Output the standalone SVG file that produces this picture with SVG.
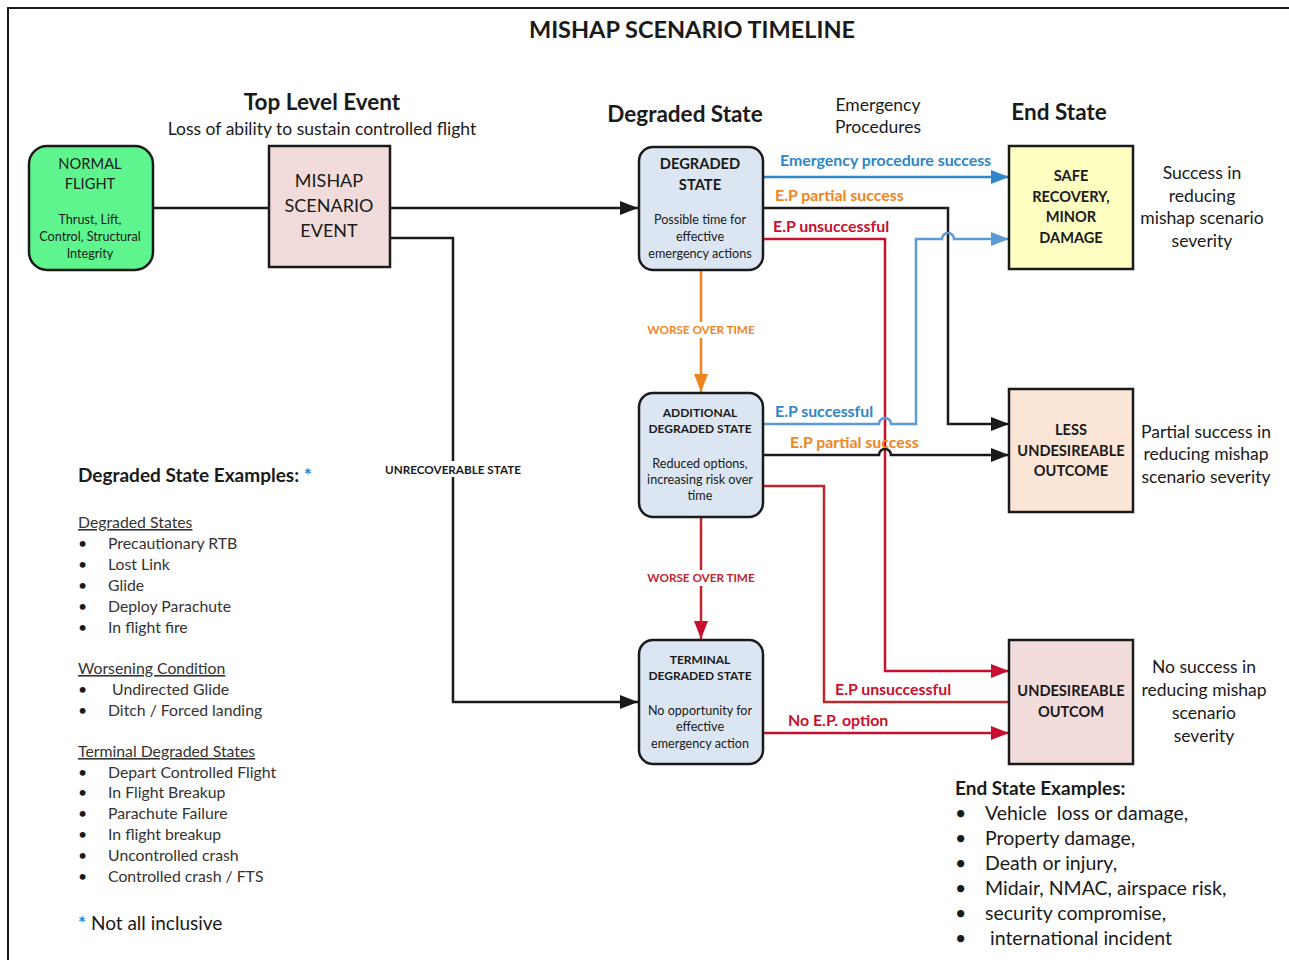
<svg xmlns="http://www.w3.org/2000/svg" width="1289" height="960" viewBox="0 0 1289 960">
<defs>
<style>
text{font-family:Lato,"Open Sans","Liberation Sans",sans-serif;fill:#1a1a1a}
.b{font-weight:bold}
.c{text-anchor:middle}
.g{fill:#333}
.node{stroke:#1a1a1a;stroke-width:2.5}
.con{fill:none;stroke-width:2.5}
.k{stroke:#1a1a1a}
.bl{stroke:#2E86C8}
.bl2{stroke:#5B9BD5}
.rd{stroke:#C8102E}
.rd2{stroke:#C0262D}
.or{stroke:#F0851E}
.ub{text-decoration:underline}
</style>
<marker id="ak" markerUnits="userSpaceOnUse" markerWidth="18" markerHeight="14" refX="18" refY="7" orient="auto"><path d="M0,0 L18,7 L0,14 z" fill="#1a1a1a"/></marker>
<marker id="abl" markerUnits="userSpaceOnUse" markerWidth="18" markerHeight="14" refX="18" refY="7" orient="auto"><path d="M0,0 L18,7 L0,14 z" fill="#2E86C8"/></marker>
<marker id="abl2" markerUnits="userSpaceOnUse" markerWidth="18" markerHeight="14" refX="18" refY="7" orient="auto"><path d="M0,0 L18,7 L0,14 z" fill="#5B9BD5"/></marker>
<marker id="ard" markerUnits="userSpaceOnUse" markerWidth="18" markerHeight="14" refX="18" refY="7" orient="auto"><path d="M0,0 L18,7 L0,14 z" fill="#C8102E"/></marker>
<marker id="aor" markerUnits="userSpaceOnUse" markerWidth="18" markerHeight="14" refX="18" refY="7" orient="auto"><path d="M0,0 L18,7 L0,14 z" fill="#F0851E"/></marker>
</defs>
<rect x="0" y="0" width="1289" height="960" fill="#ffffff"/>
<rect x="8" y="8" width="1290" height="960" fill="none" stroke="#1a1a1a" stroke-width="2"/>

<text x="692" y="38" class="b c" font-size="23.5">MISHAP SCENARIO TIMELINE</text>

<g id="headings">
<text x="322" y="110" class="b c" font-size="22.5">Top Level Event</text>
<text x="322" y="135" class="c" font-size="17.5">Loss of ability to sustain controlled flight</text>
<text x="685" y="122" class="b c" font-size="22.5">Degraded State</text>
<text x="878" y="111" class="c" font-size="17.5">Emergency</text>
<text x="878" y="133" class="c" font-size="17.5">Procedures</text>
<text x="1059" y="120" class="b c" font-size="22.5">End State</text>
</g>

<g id="connectors">
<path class="con k" d="M153,208 H269"/>
<path class="con k" d="M390,208 H638" marker-end="url(#ak)"/>
<path class="con k" d="M390,238 H453 V702 H638" marker-end="url(#ak)"/>
<path class="con or" d="M701,270 V392" marker-end="url(#aor)"/>
<path class="con rd2" d="M701,517 V639" marker-end="url(#ard)"/>
<path class="con bl" d="M763,177 H1009" marker-end="url(#abl)"/>
<path class="con k" d="M763,208 H948 V424 H1009" marker-end="url(#ak)"/>
<path class="con rd" d="M763,239 H885 V671 H1009" marker-end="url(#ard)"/>
<path class="con bl2" d="M763,424 H879 A6,6 0 0 1 891,424 H916 V239 H942 A6,6 0 0 1 954,239 H1009" marker-end="url(#abl2)"/>
<path class="con k" d="M763,455 H879 A6,6 0 0 1 891,455 H1009" marker-end="url(#ak)"/>
<path class="con rd2" d="M763,486 H824 V702 H1009"/>
<path class="con rd" d="M763,733 H1009" marker-end="url(#ard)"/>
</g>

<g id="connector-labels" font-size="15.9">
<rect x="380" y="461" width="146" height="16" fill="#fff"/>
<text x="453" y="474" class="b c" font-size="11.7">UNRECOVERABLE STATE</text>
<rect x="644" y="322" width="114" height="16" fill="#fff"/>
<text x="701" y="334" class="b c" font-size="11.7" style="fill:#F0851E">WORSE OVER TIME</text>
<rect x="644" y="570" width="114" height="16" fill="#fff"/>
<text x="701" y="582" class="b c" font-size="11.7" style="fill:#C0262D">WORSE OVER TIME</text>
<text x="780" y="166" class="b" style="fill:#2E86C8">Emergency procedure success</text>
<text x="775" y="201" class="b" style="fill:#F0851E">E.P partial success</text>
<text x="773" y="232" class="b" style="fill:#C8102E">E.P unsuccessful</text>
<text x="775" y="417" class="b" style="fill:#2E86C8">E.P successful</text>
<text x="790" y="448" class="b" style="fill:#F0851E">E.P partial success</text>
<text x="835" y="695" class="b" style="fill:#C8102E">E.P unsuccessful</text>
<text x="788" y="726" class="b" style="fill:#C8102E">No E.P. option</text>
</g>

<g id="normal-flight">
<rect x="29" y="146" width="124" height="124" rx="18" fill="#5EF58E" class="node"/>
<text x="90" y="169" class="c" font-size="14.7">NORMAL</text>
<text x="90" y="189" class="c" font-size="14.7">FLIGHT</text>
<text x="90" y="224" class="c" font-size="12.6">Thrust, Lift,</text>
<text x="90" y="241" class="c" font-size="12.6">Control, Structural</text>
<text x="90" y="258" class="c" font-size="12.6">Integrity</text>
</g>

<g id="mishap-event">
<rect x="269" y="146" width="121" height="121" fill="#F2DCDB" class="node"/>
<text x="329" y="187" class="c" font-size="18">MISHAP</text>
<text x="329" y="212" class="c" font-size="18">SCENARIO</text>
<text x="329" y="237" class="c" font-size="18">EVENT</text>
</g>

<g id="degraded-state">
<rect x="639" y="147" width="124" height="123" rx="14" fill="#DCE6F2" class="node"/>
<text x="700" y="169" class="b c" font-size="14.7">DEGRADED</text>
<text x="700" y="190" class="b c" font-size="14.7">STATE</text>
<text x="700" y="224" class="c" font-size="12.6">Possible time for</text>
<text x="700" y="241" class="c" font-size="12.6">effective</text>
<text x="700" y="258" class="c" font-size="12.6">emergency actions</text>
</g>

<g id="additional-degraded-state">
<rect x="639" y="393" width="124" height="124" rx="14" fill="#DCE6F2" class="node"/>
<text x="700" y="417" class="b c" font-size="12">ADDITIONAL</text>
<text x="700" y="433" class="b c" font-size="12">DEGRADED STATE</text>
<text x="700" y="468" class="c" font-size="12.6">Reduced options,</text>
<text x="700" y="484" class="c" font-size="12.6">increasing risk over</text>
<text x="700" y="500" class="c" font-size="12.6">time</text>
</g>

<g id="terminal-degraded-state">
<rect x="639" y="640" width="124" height="124" rx="14" fill="#DCE6F2" class="node"/>
<text x="700" y="664" class="b c" font-size="12">TERMINAL</text>
<text x="700" y="680" class="b c" font-size="12">DEGRADED STATE</text>
<text x="700" y="715" class="c" font-size="12.6">No opportunity for</text>
<text x="700" y="731" class="c" font-size="12.6">effective</text>
<text x="700" y="748" class="c" font-size="12.6">emergency action</text>
</g>

<g id="safe-recovery">
<rect x="1009" y="146" width="124" height="123" fill="#FFFFC2" class="node"/>
<text x="1071" y="181" class="b c" font-size="14.6">SAFE</text>
<text x="1071" y="202" class="b c" font-size="14.6">RECOVERY,</text>
<text x="1071" y="222" class="b c" font-size="14.6">MINOR</text>
<text x="1071" y="243" class="b c" font-size="14.6">DAMAGE</text>
<text x="1202" y="179" class="c" font-size="17.6">Success in</text>
<text x="1202" y="202" class="c" font-size="17.6">reducing</text>
<text x="1202" y="224" class="c" font-size="17.6">mishap scenario</text>
<text x="1202" y="247" class="c" font-size="17.6">severity</text>
</g>

<g id="less-undesireable">
<rect x="1009" y="389" width="124" height="123" fill="#FBE5D6" class="node"/>
<text x="1071" y="435" class="b c" font-size="14.6">LESS</text>
<text x="1071" y="456" class="b c" font-size="14.6">UNDESIREABLE</text>
<text x="1071" y="476" class="b c" font-size="14.6">OUTCOME</text>
<text x="1206" y="438" class="c" font-size="17.5">Partial success in</text>
<text x="1206" y="460" class="c" font-size="17.5">reducing mishap</text>
<text x="1206" y="483" class="c" font-size="17.5">scenario severity</text>
</g>

<g id="undesireable">
<rect x="1009" y="640" width="124" height="124" fill="#F2DCDB" class="node"/>
<text x="1071" y="696" class="b c" font-size="14.6">UNDESIREABLE</text>
<text x="1071" y="717" class="b c" font-size="14.6">OUTCOM</text>
<text x="1204" y="673" class="c" font-size="17.5">No success in</text>
<text x="1204" y="696" class="c" font-size="17.5">reducing mishap</text>
<text x="1204" y="719" class="c" font-size="17.5">scenario</text>
<text x="1204" y="742" class="c" font-size="17.5">severity</text>
</g>

<g id="degraded-examples" font-size="15.8">
<text x="78" y="482" class="b" font-size="19">Degraded State Examples: <tspan style="fill:#2E86C8">*</tspan></text>
<text x="78" y="528" class="ub g">Degraded States</text>
<text x="78" y="549">•</text><text x="108" y="549" class="g">Precautionary RTB</text>
<text x="78" y="570">•</text><text x="108" y="570" class="g">Lost Link</text>
<text x="78" y="591">•</text><text x="108" y="591" class="g">Glide</text>
<text x="78" y="612">•</text><text x="108" y="612" class="g">Deploy Parachute</text>
<text x="78" y="633">•</text><text x="108" y="633" class="g">In flight fire</text>
<text x="78" y="674" class="ub g">Worsening Condition</text>
<text x="78" y="695">•</text><text x="112" y="695" class="g">Undirected Glide</text>
<text x="78" y="716">•</text><text x="108" y="716" class="g">Ditch / Forced landing</text>
<text x="78" y="757" class="ub g">Terminal Degraded States</text>
<text x="78" y="778">•</text><text x="108" y="778" class="g">Depart Controlled Flight</text>
<text x="78" y="798">•</text><text x="108" y="798" class="g">In Flight Breakup</text>
<text x="78" y="819">•</text><text x="108" y="819" class="g">Parachute Failure</text>
<text x="78" y="840">•</text><text x="108" y="840" class="g">In flight breakup</text>
<text x="78" y="861">•</text><text x="108" y="861" class="g">Uncontrolled crash</text>
<text x="78" y="882">•</text><text x="108" y="882" class="g">Controlled crash / FTS</text>
<text x="78" y="930" font-size="19"><tspan style="fill:#2E86C8" font-weight="bold">*</tspan> Not all inclusive</text>
</g>

<g id="end-state-examples" font-size="19.5">
<text x="955" y="795" class="b" font-size="19">End State Examples:</text>
<text x="955" y="820">•</text><text x="985" y="820">Vehicle&#160; loss or damage,</text>
<text x="955" y="845">•</text><text x="985" y="845">Property damage,</text>
<text x="955" y="870">•</text><text x="985" y="870">Death or injury,</text>
<text x="955" y="895">•</text><text x="985" y="895">Midair, NMAC, airspace risk,</text>
<text x="955" y="920">•</text><text x="985" y="920">security compromise,</text>
<text x="955" y="945">•</text><text x="990" y="945">international incident</text>
</g>
</svg>
